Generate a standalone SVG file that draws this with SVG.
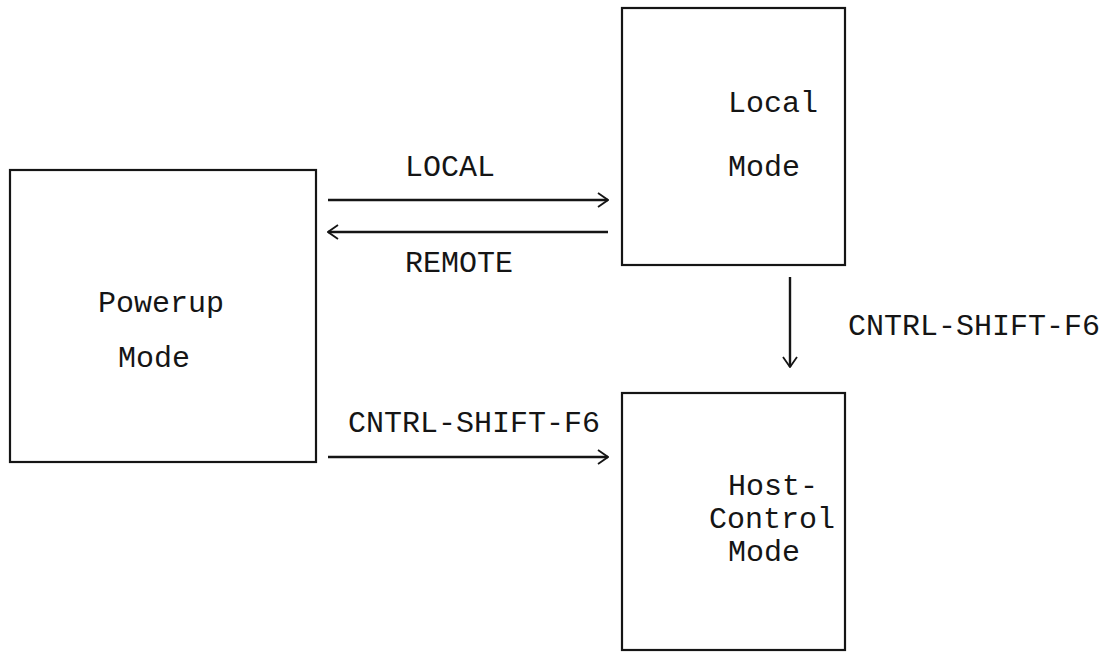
<svg xmlns="http://www.w3.org/2000/svg" width="1120" height="652" viewBox="0 0 1120 652">
  <style>
    .box { fill: none; stroke: #151515; stroke-width: 2.2; }
    .wire { fill: none; stroke: #151515; stroke-width: 2.4; }
    .lbl { font-family: "Liberation Mono", "DejaVu Sans Mono", monospace; font-size: 30px; fill: #151515; }
  </style>
  <defs>
    <!-- open chevron head used by every transition -->
    <marker id="chev" viewBox="0 0 12 16" refX="11" refY="8" markerWidth="12" markerHeight="16" markerUnits="userSpaceOnUse" orient="auto">
      <path d="M1,1 L11,8 L1,15" fill="none" stroke="#151515" stroke-width="1.8"/>
    </marker>
  </defs>
  <rect width="1120" height="652" fill="#ffffff"/>

  <g id="powerup">
    <rect class="box" x="10" y="170" width="306" height="292"/>
    <text class="lbl" x="98" y="312">Powerup</text>
    <text class="lbl" x="118" y="367">Mode</text>
  </g>

  <g id="local">
    <rect class="box" x="622" y="8" width="223" height="257"/>
    <text class="lbl" x="728" y="112">Local</text>
    <text class="lbl" x="728" y="176">Mode</text>
  </g>

  <g id="host-control">
    <rect class="box" x="622" y="393" width="223" height="257"/>
    <text class="lbl" x="728" y="495">Host-</text>
    <text class="lbl" x="709" y="528">Control</text>
    <text class="lbl" x="728" y="561">Mode</text>
  </g>

  <g id="connectors">
    <line class="wire" x1="328" y1="200" x2="608" y2="200" marker-end="url(#chev)"/>
    <line class="wire" x1="608" y1="232" x2="328" y2="232" marker-end="url(#chev)"/>
    <line class="wire" x1="328" y1="457" x2="608" y2="457" marker-end="url(#chev)"/>
    <line class="wire" x1="790" y1="277" x2="790" y2="367" marker-end="url(#chev)"/>
    <text class="lbl" x="405" y="176">LOCAL</text>
    <text class="lbl" x="405" y="272">REMOTE</text>
    <text class="lbl" x="848" y="335">CNTRL-SHIFT-F6</text>
    <text class="lbl" x="348" y="432">CNTRL-SHIFT-F6</text>
  </g>
</svg>
